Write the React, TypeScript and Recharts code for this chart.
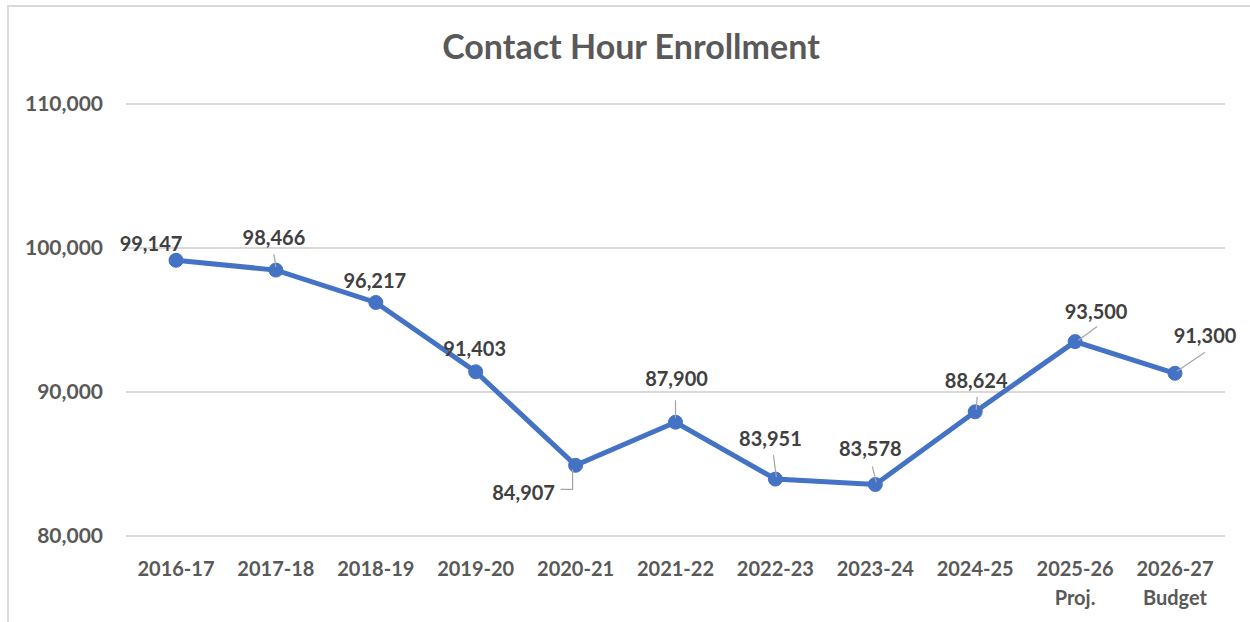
import React from 'react'
import { LineChart, Line, XAxis, YAxis, CartesianGrid } from 'recharts'

const years = ['2016-17', '2017-18', '2018-19', '2019-20', '2020-21', '2021-22', '2022-23', '2023-24', '2024-25', '2025-26', '2026-27']
const yearNotes = ['', '', '', '', '', '', '', '', '', 'Proj.', 'Budget']
const enrollment = [99147, 98466, 96217, 91403, 84907, 87900, 83951, 83578, 88624, 93500, 91300]
const yTicks = [80000, 90000, 100000, 110000]

// label placement relative to each point (label centre), plus optional leader line
const labelPlacement: { dx: number; dy: number; leader?: number[] }[] = [
  { dx: -25, dy: -17 },
  { dx: -2, dy: -33, leader: [-2, -16, 0, -3] },
  { dx: -1, dy: -22 },
  { dx: -1, dy: -24 },
  { dx: -52, dy: 27, leader: [-3, 4, -3, 24, -15, 24] },
  { dx: 1, dy: -44, leader: [0, -22, 0, -4] },
  { dx: -5, dy: -41, leader: [-2, -24, 1, -2] },
  { dx: -5, dy: -36, leader: [-3, -18, 1, -2] },
  { dx: 1, dy: -32, leader: [2, -15, 1, -2] },
  { dx: 21, dy: -31, leader: [3, -1, 22, -15] },
  { dx: 30, dy: -38, leader: [2, -2, 30, -21] },
]

const data = years.map((year, i) => ({ year, note: yearNotes[i], value: enrollment[i] }))

const FONT = 'Lato, "Noto Sans", sans-serif'

const PointLabel = (props: any) => {
  const { x, y, value, index } = props
  const p = labelPlacement[index]
  let leader = null
  if (p.leader) {
    const pts: string[] = []
    for (let k = 0; k < p.leader.length; k += 2) pts.push(`${x + p.leader[k]},${y + p.leader[k + 1]}`)
    leader = <polyline points={pts.join(' ')} fill="none" stroke="#a6a6a6" strokeWidth={1.2} />
  }
  return (
    <g>
      {leader}
      <text
        x={x + p.dx}
        y={y + p.dy}
        textAnchor="middle"
        dominantBaseline="central"
        fontFamily={FONT}
        fontWeight={700}
        fontSize={20}
        fill="#404040"
      >
        {Number(value).toLocaleString('en-US')}
      </text>
    </g>
  )
}

const YearTick = (props: any) => {
  const { x, y, payload, index } = props
  const note = yearNotes[index]
  return (
    <g fontFamily={FONT} fontWeight={700} fontSize={20} fill="#595959">
      <text x={x} y={y + 32} textAnchor="middle">{payload.value}</text>
      {note && <text x={x} y={y + 61} textAnchor="middle">{note}</text>}
    </g>
  )
}

export default function App() {
  return (
    <div style={{ position: 'absolute', left: 0, top: 0, width: 1250, height: 622, background: '#fff' }}>
      <div
        style={{
          position: 'absolute',
          left: 7,
          top: 5,
          width: 1243,
          height: 617,
          borderLeft: '2px solid #d9d9d9',
          borderTop: '2px solid #d9d9d9',
          boxSizing: 'border-box',
        }}
      />
      <div
        style={{
          position: 'absolute',
          left: 0,
          top: 25,
          width: 1262,
          textAlign: 'center',
          fontFamily: FONT,
          fontWeight: 700,
          fontSize: 34,
          color: '#595959',
        }}
      >
        Contact Hour Enrollment
      </div>
      <div style={{ position: 'absolute', left: 0, top: 0 }}>
        <LineChart width={1250} height={622} data={data} margin={{ top: 104, right: 25, bottom: 26, left: 0 }}>
          <CartesianGrid vertical={false} stroke="#d9d9d9" strokeWidth={2} />
          <XAxis
            dataKey="year"
            axisLine={false}
            tickLine={false}
            interval={0}
            height={60}
            padding={{ left: 50, right: 50 }}
            tick={<YearTick />}
          />
          <YAxis
            domain={[80000, 110000]}
            ticks={yTicks}
            axisLine={false}
            tickLine={false}
            tickSize={0}
            tickMargin={23}
            width={126}
            tickFormatter={(v) => Number(v).toLocaleString('en-US')}
            tick={{ fontFamily: FONT, fontWeight: 700, fontSize: 21, fill: '#595959' }}
          />
          <Line
            dataKey="value"
            stroke="#4472c4"
            strokeWidth={5}
            dot={{ r: 7, fill: '#4472c4', stroke: '#4472c4', strokeWidth: 1 }}
            activeDot={false}
            isAnimationActive={false}
            label={<PointLabel />}
          />
        </LineChart>
      </div>
    </div>
  )
}
